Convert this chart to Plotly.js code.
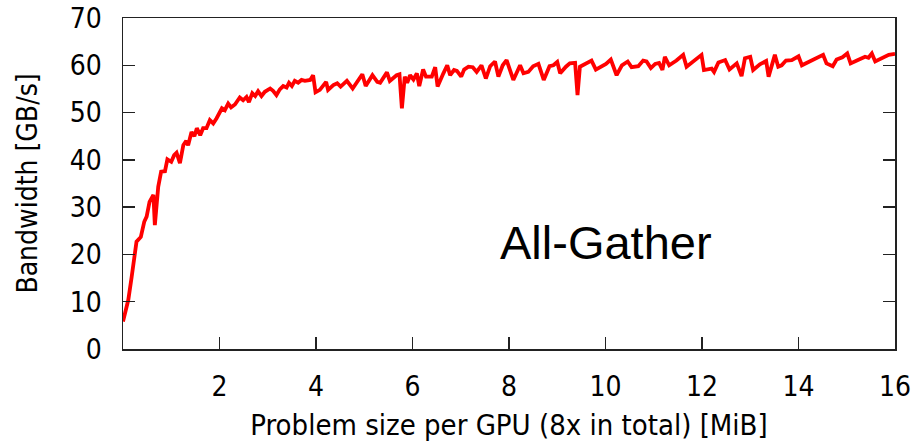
<!DOCTYPE html>
<html>
<head>
<meta charset="utf-8">
<script src="https://cdn.plot.ly/plotly-3.0.1.min.js"></script>
<style>html,body{margin:0;padding:0;background:#fff;}#chart{width:920px;height:442px;}</style>
</head>
<body>
<div id="chart"></div>
<script>
// Problem size per GPU [MiB]
const sizeMiB = [0, 0.11, 0.18, 0.28, 0.37, 0.44, 0.49, 0.55, 0.63, 0.66, 0.73, 0.79, 0.87, 0.92, 1.0, 1.06, 1.11, 1.18, 1.25, 1.31, 1.35, 1.42, 1.48, 1.53, 1.6, 1.66, 1.73, 1.8, 1.87, 1.94,
  2.05, 2.11, 2.18, 2.24, 2.32, 2.42, 2.49, 2.56, 2.61, 2.68, 2.74, 2.8, 2.87, 2.94, 3.05, 3.11, 3.18, 3.25, 3.32, 3.39, 3.44, 3.5, 3.56, 3.63, 3.7, 3.77, 3.88, 3.94, 3.99,
  4.08, 4.21, 4.25, 4.36, 4.44, 4.51, 4.64, 4.76, 4.88, 4.96, 5.03, 5.17, 5.27, 5.33, 5.47, 5.53, 5.67, 5.73, 5.78, 5.84, 5.89, 5.95,
  6.02, 6.09, 6.14, 6.22, 6.28, 6.4, 6.47, 6.52, 6.64, 6.72, 6.78, 6.86, 6.92, 7.01, 7.07, 7.16, 7.25, 7.33, 7.43, 7.52, 7.61, 7.71, 7.78, 7.87, 7.95,
  8.09, 8.23, 8.3, 8.4, 8.5, 8.61, 8.72, 8.84, 8.92, 9.0, 9.06, 9.18, 9.26, 9.37, 9.42, 9.47, 9.6, 9.71, 9.8, 9.92,
  10.01, 10.11, 10.23, 10.34, 10.46, 10.54, 10.68, 10.78, 10.85, 10.94, 11.03, 11.11, 11.18, 11.23, 11.32, 11.47, 11.61, 11.68, 11.82, 11.92, 11.99,
  12.04, 12.2, 12.25, 12.34, 12.48, 12.57, 12.72, 12.82, 12.89, 13.0, 13.06, 13.2, 13.33, 13.38, 13.51, 13.58, 13.65, 13.74, 13.86,
  14.0, 14.07, 14.24, 14.38, 14.51, 14.58, 14.71, 14.79, 14.91, 15.01, 15.08, 15.21, 15.38, 15.45, 15.52, 15.59, 15.73, 15.87, 16.0];
// Bandwidth [GB/s]
const bandwidth = [5.8, 10.4, 15.3, 22.7, 23.7, 26.9, 28.0, 31.1, 32.6, 26.2, 34.3, 37.5, 37.6, 40.1, 39.6, 41.0, 41.5, 39.3, 43.1, 44.0, 43.1, 45.9, 45.0, 46.7, 45.2, 46.7, 46.7, 48.4, 47.7, 48.8,
  50.9, 50.5, 51.9, 51.1, 51.7, 53.2, 52.6, 53.3, 52.2, 54.1, 53.5, 54.5, 53.5, 54.4, 55.1, 54.6, 53.7, 54.9, 55.6, 55.3, 56.3, 55.6, 56.7, 56.3, 56.9, 56.7, 56.9, 57.9, 54.3,
  54.8, 56.5, 54.8, 55.8, 56.2, 55.5, 56.7, 55.1, 57.0, 58.1, 55.6, 57.9, 56.5, 56.3, 58.5, 56.7, 57.9, 58.1, 50.9, 57.6, 56.3, 57.9,
  57.0, 58.3, 55.6, 59.1, 57.6, 57.6, 59.6, 55.5, 58.3, 60.0, 57.9, 59.0, 58.8, 57.6, 59.1, 59.7, 59.6, 58.6, 60.0, 57.2, 59.8, 60.8, 57.6, 60.0, 61.1,
  56.9, 60.0, 58.3, 58.6, 59.8, 60.3, 56.9, 59.8, 60.0, 60.7, 58.3, 59.7, 60.4, 60.5, 53.7, 59.7, 60.4, 61.0, 59.1, 59.7,
  60.3, 61.2, 57.9, 60.0, 60.8, 59.6, 59.8, 61.0, 60.8, 59.4, 60.3, 60.5, 59.0, 61.8, 60.0, 61.0, 62.2, 59.7, 60.8, 61.4, 62.2,
  59.0, 59.3, 58.6, 60.6, 61.1, 59.1, 60.4, 57.7, 61.5, 61.8, 59.0, 60.2, 60.9, 57.6, 62.2, 59.7, 60.0, 61.0, 61.1,
  61.9, 60.0, 60.8, 61.5, 62.2, 60.4, 59.8, 61.2, 61.7, 62.5, 60.4, 61.0, 61.8, 61.6, 62.5, 60.8, 61.5, 62.2, 62.4];
const xTicks = [2, 4, 6, 8, 10, 12, 14, 16];
const yTicks = [0, 10, 20, 30, 40, 50, 60, 70];
const xTitle = 'Problem size per GPU (8x in total) [MiB]';
const yTitle = 'Bandwidth [GB/s]';
const label = 'All-Gather';

const fam = 'DejaVu Sans Condensed, DejaVu Sans';
const tickFont = {family: fam, size: 28, color: '#000'};

Plotly.newPlot('chart', [{
  x: sizeMiB, y: bandwidth, type: 'scatter', mode: 'lines',
  line: {color: '#ff0000', width: 3.8}, hoverinfo: 'skip'
}], {
  width: 920, height: 442,
  margin: {l: 123, r: 25, t: 18, b: 93},
  paper_bgcolor: '#fff', plot_bgcolor: '#fff',
  showlegend: false,
  xaxis: {
    range: [0, 16], tickvals: xTicks, ticktext: xTicks.map(String),
    ticks: 'inside', ticklen: 12, tickwidth: 1.5, tickcolor: '#222',
    showline: true, linecolor: '#222', linewidth: 1.5, mirror: true,
    showgrid: false, zeroline: false, tickfont: tickFont, ticklabelstandoff: 12,
    title: {text: xTitle, font: {family: fam, size: 29, color: '#000'}, standoff: 18}
  },
  yaxis: {
    range: [0, 70], tickvals: yTicks, ticktext: yTicks.map(String),
    ticks: 'inside', ticklen: 12, tickwidth: 1.5, tickcolor: '#222',
    showline: true, linecolor: '#222', linewidth: 1.5, mirror: 'ticks',
    showgrid: false, zeroline: false, tickfont: tickFont, ticklabelstandoff: 14,
    title: {text: yTitle, font: {family: fam, size: 28, color: '#000'}, standoff: 24}
  },
  annotations: [{
    x: 10, y: 22.6, xref: 'x', yref: 'y', text: label, showarrow: false,
    font: {family: 'Liberation Sans, Arial', size: 47, color: '#000'}
  }]
}, {staticPlot: true});
</script>
</body>
</html>
